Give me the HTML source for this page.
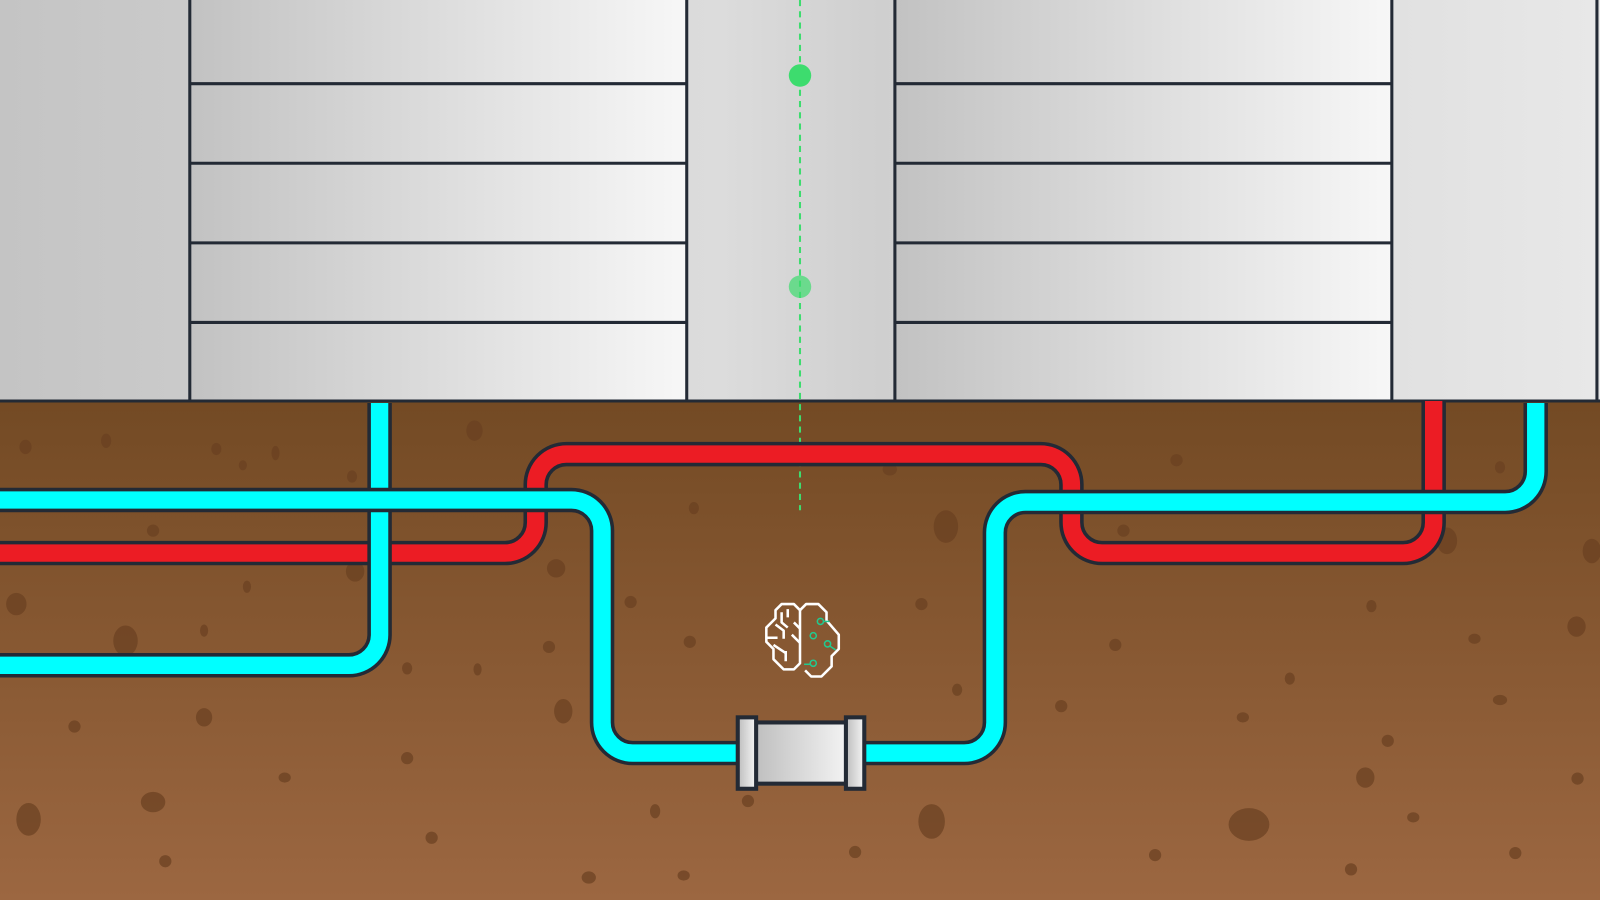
<!DOCTYPE html>
<html><head><meta charset="utf-8"><style>
html,body{margin:0;padding:0;width:1600px;height:900px;overflow:hidden;background:#ddd}
svg{display:block}
</style></head><body>
<svg width="1600" height="900" viewBox="0 0 1568 882" preserveAspectRatio="none" xmlns="http://www.w3.org/2000/svg">
<defs>
<linearGradient id="bg" x1="0" x2="1" y1="0" y2="0">
<stop offset="0" stop-color="#c4c4c4"/><stop offset="0.45" stop-color="#dcdcdc"/><stop offset="0.55" stop-color="#cfcfcf"/><stop offset="1" stop-color="#e8e8e8"/></linearGradient>
<linearGradient id="pn" x1="0" x2="1" y1="0" y2="0">
<stop offset="0" stop-color="#c2c2c2"/><stop offset="1" stop-color="#f7f7f7"/></linearGradient>
<linearGradient id="soil" x1="0" x2="0" y1="0" y2="1">
<stop offset="0" stop-color="#734a24"/><stop offset="1" stop-color="#9c6741"/></linearGradient>
<linearGradient id="cn" x1="0" x2="1" y1="0" y2="0">
<stop offset="0" stop-color="#bdbdbd"/><stop offset="1" stop-color="#f5f5f5"/></linearGradient>
</defs>
<rect x="0" y="0" width="1568" height="393" fill="url(#bg)"/>
<g stroke="#232a35" stroke-width="3">
<rect x="186" y="-5" width="487" height="398" fill="url(#pn)"/>
<rect x="877" y="-5" width="487" height="398" fill="url(#pn)"/>
<line x1="1565" y1="0" x2="1565" y2="393"/>
<path d="M186 82H673M186 160H673M186 238H673M186 316H673M877 82H1364M877 160H1364M877 238H1364M877 316H1364"/>
</g>
<rect x="0" y="393" width="1568" height="489" fill="url(#soil)"/>
<line x1="0" y1="393" x2="1568" y2="393" stroke="#232a35" stroke-width="3"/>
<g fill="#6a4021" opacity="0.7">
<ellipse cx="25" cy="438" rx="6" ry="7"/><ellipse cx="104" cy="432" rx="5" ry="7"/><ellipse cx="212" cy="440" rx="5" ry="6"/><ellipse cx="270" cy="444" rx="4" ry="7"/><ellipse cx="345" cy="467" rx="5" ry="6"/><ellipse cx="465" cy="422" rx="8" ry="10"/><ellipse cx="150" cy="520" rx="6" ry="6"/><ellipse cx="242" cy="575" rx="4" ry="6"/><ellipse cx="16" cy="592" rx="10" ry="11"/><ellipse cx="123" cy="628" rx="12" ry="15"/><ellipse cx="200" cy="618" rx="4" ry="6"/><ellipse cx="348" cy="560" rx="9" ry="10"/><ellipse cx="545" cy="557" rx="9" ry="9"/><ellipse cx="618" cy="590" rx="6" ry="6"/><ellipse cx="538" cy="634" rx="6" ry="6"/><ellipse cx="468" cy="656" rx="4" ry="6"/><ellipse cx="399" cy="655" rx="5" ry="6"/><ellipse cx="676" cy="629" rx="6" ry="6"/><ellipse cx="552" cy="697" rx="9" ry="12"/><ellipse cx="73" cy="712" rx="6" ry="6"/><ellipse cx="200" cy="703" rx="8" ry="9"/><ellipse cx="399" cy="743" rx="6" ry="6"/><ellipse cx="150" cy="786" rx="12" ry="10"/><ellipse cx="28" cy="803" rx="12" ry="16"/><ellipse cx="279" cy="762" rx="6" ry="5"/><ellipse cx="423" cy="821" rx="6" ry="6"/><ellipse cx="162" cy="844" rx="6" ry="6"/><ellipse cx="577" cy="860" rx="7" ry="6"/><ellipse cx="670" cy="858" rx="6" ry="5"/><ellipse cx="642" cy="795" rx="5" ry="7"/><ellipse cx="733" cy="785" rx="6" ry="6"/><ellipse cx="838" cy="835" rx="6" ry="6"/><ellipse cx="913" cy="805" rx="13" ry="17"/><ellipse cx="938" cy="676" rx="5" ry="6"/><ellipse cx="903" cy="592" rx="6" ry="6"/><ellipse cx="927" cy="516" rx="12" ry="16"/><ellipse cx="872" cy="460" rx="7" ry="6"/><ellipse cx="1093" cy="632" rx="6" ry="6"/><ellipse cx="1040" cy="692" rx="6" ry="6"/><ellipse cx="1101" cy="520" rx="6" ry="6"/><ellipse cx="1153" cy="451" rx="6" ry="6"/><ellipse cx="1264" cy="665" rx="5" ry="6"/><ellipse cx="1218" cy="703" rx="6" ry="5"/><ellipse cx="1344" cy="594" rx="5" ry="6"/><ellipse cx="1418" cy="530" rx="10" ry="13"/><ellipse cx="1445" cy="626" rx="6" ry="5"/><ellipse cx="1545" cy="614" rx="9" ry="10"/><ellipse cx="1560" cy="540" rx="9" ry="12"/><ellipse cx="1470" cy="686" rx="7" ry="5"/><ellipse cx="1360" cy="726" rx="6" ry="6"/><ellipse cx="1338" cy="762" rx="9" ry="10"/><ellipse cx="1385" cy="801" rx="6" ry="5"/><ellipse cx="1224" cy="808" rx="20" ry="16"/><ellipse cx="1132" cy="838" rx="6" ry="6"/><ellipse cx="1324" cy="852" rx="6" ry="6"/><ellipse cx="1485" cy="836" rx="6" ry="6"/><ellipse cx="1546" cy="763" rx="6" ry="6"/><ellipse cx="1470" cy="458" rx="5" ry="6"/><ellipse cx="680" cy="498" rx="5" ry="6"/><ellipse cx="238" cy="456" rx="4" ry="5"/>
</g>
<line x1="784" y1="0" x2="784" y2="500" stroke="#3ddc6e" stroke-width="2" stroke-dasharray="6 5"/>
<circle cx="784" cy="74" r="11" fill="#3ddc6e"/>
<circle cx="784" cy="281" r="11" fill="#3ddc6e" opacity="0.7"/>
<g fill="none" stroke-linejoin="round">
<path d="M0 542H495a30 30 0 0 0 30-30V475a30 30 0 0 1 30-30H1020a30 30 0 0 1 30 30V512a30 30 0 0 0 30 30H1375a30 30 0 0 0 30-30V393" stroke="#232a35" stroke-width="24"/>
<path d="M0 542H495a30 30 0 0 0 30-30V475a30 30 0 0 1 30-30H1020a30 30 0 0 1 30 30V512a30 30 0 0 0 30 30H1375a30 30 0 0 0 30-30V393" stroke="#ec1c24" stroke-width="17"/>
<path d="M372 395V622a30 30 0 0 1-30 30H0" stroke="#232a35" stroke-width="24"/>
<path d="M372 395V622a30 30 0 0 1-30 30H0" stroke="#00ffff" stroke-width="17"/>
<path d="M0 490H560a30 30 0 0 1 30 30V708a30 30 0 0 0 30 30H945a30 30 0 0 0 30-30V522a30 30 0 0 1 30-30H1475a30 30 0 0 0 30-30V395" stroke="#232a35" stroke-width="24"/>
<path d="M0 490H560a30 30 0 0 1 30 30V708a30 30 0 0 0 30 30H945a30 30 0 0 0 30-30V522a30 30 0 0 1 30-30H1475a30 30 0 0 0 30-30V395" stroke="#00ffff" stroke-width="17"/>
</g>
<g stroke="#232a35" stroke-width="4">
<rect x="737" y="708" width="96" height="60" fill="url(#cn)"/>
<rect x="723" y="703" width="18" height="70" fill="url(#cn)"/>
<rect x="829" y="703" width="18" height="70" fill="url(#cn)"/>
</g>
<g fill="none" stroke="#fff" stroke-width="2.5" stroke-linejoin="round">
<path d="M784 598l-6-6h-12l-6 6v8l-9 9v14l7 7v10l10 10h10l6-6V598z"/>
<path d="M784 598l6-6h12l8 8v8l12 14v14l-7 7v10l-10 10h-10l-6-6"/>
<path d="M766 600v10l6 5M772 605v-8M760 612l8 6v8M752 625h10M758 632l12 8M770 638v10M776 622l8 8M778 610l6 6"/>
</g>
<g stroke="#22c98f" stroke-width="1.5" fill="none">
<circle cx="804" cy="609" r="3"/><path d="M807 609h6"/>
<circle cx="797" cy="623" r="3"/>
<circle cx="811" cy="631" r="3"/><path d="M813 633l6 4"/>
<circle cx="797" cy="650" r="3"/><path d="M794 651h-6"/>
</g>
</svg>
</body></html>
